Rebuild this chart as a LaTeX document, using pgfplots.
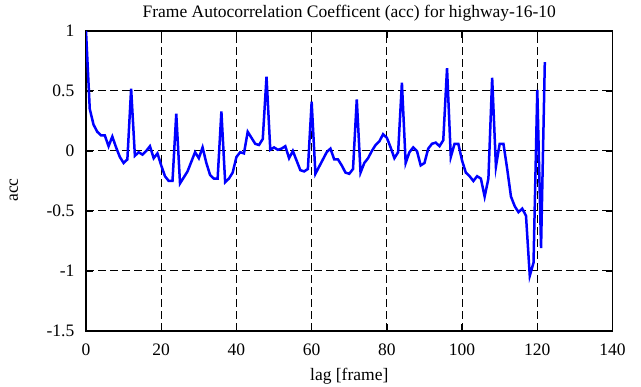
\documentclass[border=0pt]{standalone}
\usepackage{fontspec}
\setmainfont{Liberation Serif}
\usepackage{pgfplots}
\pgfplotsset{compat=1.18}
\usepackage{pgfplotstable}
\pgfplotstableread{
lag acc
0 1.00
1 0.35
2 0.22
3 0.16
4 0.13
5 0.13
6 0.04
7 0.12
8 0.03
9 -0.05
10 -0.10
11 -0.07
12 0.52
13 -0.04
14 -0.01
15 -0.03
16 0.00
17 0.04
18 -0.06
19 -0.02
20 -0.12
21 -0.21
22 -0.25
23 -0.25
24 0.31
25 -0.27
26 -0.22
27 -0.17
28 -0.09
29 -0.01
30 -0.06
31 0.03
32 -0.10
33 -0.20
34 -0.23
35 -0.23
36 0.33
37 -0.26
38 -0.23
39 -0.18
40 -0.05
41 -0.01
42 -0.02
43 0.16
44 0.11
45 0.06
46 0.05
47 0.10
48 0.62
49 0.01
50 0.03
51 0.01
52 0.02
53 0.04
54 -0.06
55 0.00
56 -0.08
57 -0.16
58 -0.17
59 -0.15
60 0.41
61 -0.19
62 -0.13
63 -0.07
64 -0.01
65 0.02
66 -0.07
67 -0.07
68 -0.12
69 -0.18
70 -0.19
71 -0.15
72 0.43
73 -0.18
74 -0.10
75 -0.06
76 0.00
77 0.05
78 0.08
79 0.14
80 0.11
81 0.03
82 -0.06
83 -0.01
84 0.57
85 -0.10
86 -0.01
87 0.03
88 0.00
89 -0.12
90 -0.10
91 0.02
92 0.06
93 0.07
94 0.04
95 0.09
96 0.69
97 -0.05
98 0.06
99 0.06
100 -0.08
101 -0.18
102 -0.21
103 -0.25
104 -0.21
105 -0.23
106 -0.38
107 -0.23
108 0.61
109 -0.13
110 0.06
111 0.06
112 -0.15
113 -0.38
114 -0.46
115 -0.51
116 -0.48
117 -0.54
118 -1.04
119 -0.93
120 0.51
121 -0.81
122 0.74
}\acctable
\begin{document}
\fontsize{10.5}{12}\selectfont
\begin{tikzpicture}
\path[use as bounding box] (-51.6pt,-33.6pt) rectangle (333pt,198.6pt);
\begin{axis}[
  scale only axis,
  width=315.9pt, height=180pt,
  xmin=0, xmax=140, ymin=-1.5, ymax=1,
  xtick={0,20,...,140},
  ytick={-1.5,-1,-0.5,0,0.5,1},
  yticklabels={-1.5,-1,-0.5,0,0.5,1},
  /pgf/number format/assume math mode=true,
  tick align=inside,
  major tick length=4pt,
  tick style={black, line width=0.8pt},
  axis line style={black, line width=1pt},
  xmajorgrids, ymajorgrids,
  grid style={black, line width=0.6pt, dash pattern=on 4.8pt off 2.4pt},
  xticklabel style={anchor=base, yshift=-14.8pt},
  yticklabel style={anchor=east, xshift=-3.3pt},
  title={Frame Autocorrelation Coefficent (acc) for highway-16-10},
  every axis title/.style={at={(axis description cs:0.5,1)}, anchor=base, yshift=7.8pt},
  xlabel={lag [frame]},
  every axis x label/.style={at={(axis description cs:0.5,0)}, anchor=base, yshift=-29.4pt},
  ylabel={acc},
  every axis y label/.style={at={(axis description cs:-0.137,0.47)}, anchor=center, rotate=90},
]
\addplot[color={rgb,255:red,0;green,0;blue,255}, line width=1.5pt, mark=none] table[x=lag, y=acc] {\acctable};
\end{axis}
\end{tikzpicture}
\end{document}
